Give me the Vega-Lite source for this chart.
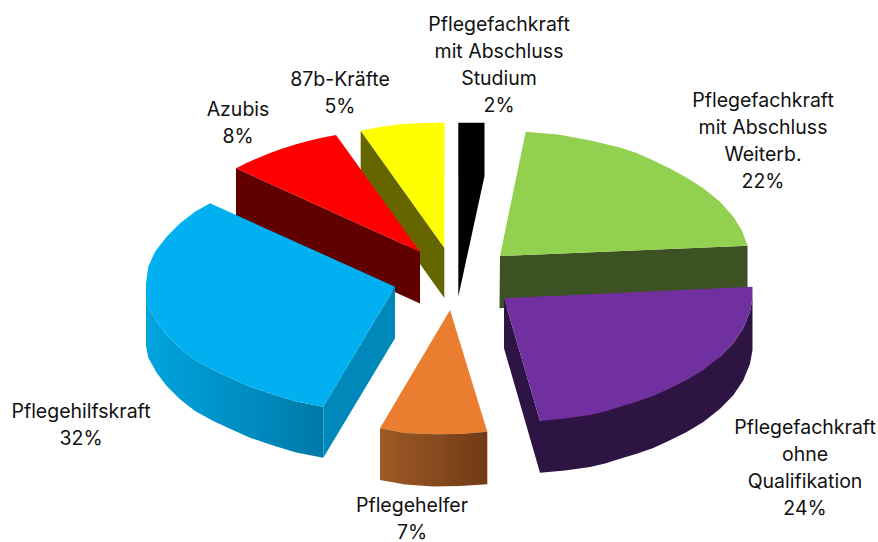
{"$schema":"https://vega.github.io/schema/vega-lite/v6.json","width":878,"height":542,"autosize":{"type":"none"},"padding":0,"background":"white","config":{"view":{"stroke":null}},
"resolve":{"scale":{"fill":"independent"}},
"datasets":{"outline":[
{"part":"yellow_side","seq":1,"x":360.7,"y":130.7},{"part":"yellow_side","seq":2,"x":444.3,"y":247.7},{"part":"yellow_side","seq":3,"x":444.3,"y":298},{"part":"yellow_side","seq":4,"x":360.7,"y":181},
{"part":"yellow_top","seq":1,"x":360.7,"y":130.7},{"part":"yellow_top","seq":2,"x":380,"y":127},{"part":"yellow_top","seq":3,"x":400,"y":124.3},{"part":"yellow_top","seq":4,"x":422,"y":123},{"part":"yellow_top","seq":5,"x":444.6,"y":122.7},{"part":"yellow_top","seq":6,"x":444.3,"y":247.7},
{"part":"black","seq":1,"x":458.3,"y":122.7},{"part":"black","seq":2,"x":484.5,"y":122.7},{"part":"black","seq":3,"x":484.5,"y":176},{"part":"black","seq":4,"x":458.3,"y":296.7},
{"part":"red_side","seq":1,"x":236,"y":168.3},{"part":"red_side","seq":2,"x":420,"y":251.7},{"part":"red_side","seq":3,"x":420,"y":303.5},{"part":"red_side","seq":4,"x":236,"y":220},
{"part":"red_top","seq":1,"x":236,"y":168.3},{"part":"red_top","seq":2,"x":247,"y":162.8},{"part":"red_top","seq":3,"x":258,"y":158},{"part":"red_top","seq":4,"x":270,"y":153},{"part":"red_top","seq":5,"x":283.3,"y":148.3},{"part":"red_top","seq":6,"x":297,"y":144},{"part":"red_top","seq":7,"x":310,"y":140.5},{"part":"red_top","seq":8,"x":323,"y":137.5},{"part":"red_top","seq":9,"x":336,"y":135},{"part":"red_top","seq":10,"x":420,"y":251.7},
{"part":"blue_facet","seq":1,"x":395,"y":286.7},{"part":"blue_facet","seq":2,"x":395,"y":338.3},{"part":"blue_facet","seq":3,"x":323.3,"y":457.7},{"part":"blue_facet","seq":4,"x":323.3,"y":406.7},
{"part":"blue_top","seq":1,"x":210,"y":203.3},{"part":"blue_top","seq":2,"x":195,"y":211.7},{"part":"blue_top","seq":3,"x":180,"y":223.3},{"part":"blue_top","seq":4,"x":166.7,"y":236.7},{"part":"blue_top","seq":5,"x":155,"y":251.7},{"part":"blue_top","seq":6,"x":148.3,"y":266.7},{"part":"blue_top","seq":7,"x":146,"y":283.3},{"part":"blue_top","seq":8,"x":146,"y":298},{"part":"blue_top","seq":9,"x":148.3,"y":306.7},{"part":"blue_top","seq":10,"x":156.7,"y":321.7},{"part":"blue_top","seq":11,"x":166.7,"y":335},{"part":"blue_top","seq":12,"x":180,"y":348.3},{"part":"blue_top","seq":13,"x":195,"y":360},{"part":"blue_top","seq":14,"x":213.3,"y":370},{"part":"blue_top","seq":15,"x":230,"y":377.7},{"part":"blue_top","seq":16,"x":250,"y":386.7},{"part":"blue_top","seq":17,"x":270,"y":393.5},{"part":"blue_top","seq":18,"x":296,"y":401.5},{"part":"blue_top","seq":19,"x":323.3,"y":406.7},{"part":"blue_top","seq":20,"x":395,"y":286.7},
{"part":"green_side","seq":1,"x":500,"y":256},{"part":"green_side","seq":2,"x":747.5,"y":245.7},{"part":"green_side","seq":3,"x":747.5,"y":292},{"part":"green_side","seq":4,"x":499.5,"y":308.3},
{"part":"green_top","seq":1,"x":525.7,"y":131.7},{"part":"green_top","seq":2,"x":558.3,"y":134.5},{"part":"green_top","seq":3,"x":591.7,"y":140.7},{"part":"green_top","seq":4,"x":620,"y":147.5},{"part":"green_top","seq":5,"x":636.7,"y":153},{"part":"green_top","seq":6,"x":653.3,"y":160.5},{"part":"green_top","seq":7,"x":670,"y":168.5},{"part":"green_top","seq":8,"x":686.7,"y":177.7},{"part":"green_top","seq":9,"x":703.3,"y":188.3},{"part":"green_top","seq":10,"x":720,"y":201.7},{"part":"green_top","seq":11,"x":733.3,"y":216.7},{"part":"green_top","seq":12,"x":741.7,"y":230},{"part":"green_top","seq":13,"x":747.5,"y":245.7},{"part":"green_top","seq":14,"x":500,"y":256},
{"part":"purple_side","seq":1,"x":504,"y":298.3},{"part":"purple_side","seq":2,"x":540,"y":421},{"part":"purple_side","seq":3,"x":720,"y":356.7},{"part":"purple_side","seq":4,"x":733.3,"y":343.3},{"part":"purple_side","seq":5,"x":743.3,"y":328.3},{"part":"purple_side","seq":6,"x":750,"y":311.7},{"part":"purple_side","seq":7,"x":752.5,"y":298},{"part":"purple_side","seq":8,"x":752.5,"y":350},{"part":"purple_side","seq":9,"x":750,"y":363.7},{"part":"purple_side","seq":10,"x":743.3,"y":380.3},{"part":"purple_side","seq":11,"x":733.3,"y":395.3},{"part":"purple_side","seq":12,"x":720,"y":408.7},{"part":"purple_side","seq":13,"x":703.3,"y":422},{"part":"purple_side","seq":14,"x":686.7,"y":432},{"part":"purple_side","seq":15,"x":670,"y":440.3},{"part":"purple_side","seq":16,"x":653.3,"y":448},{"part":"purple_side","seq":17,"x":636.7,"y":453.7},{"part":"purple_side","seq":18,"x":620,"y":458.7},{"part":"purple_side","seq":19,"x":605,"y":463.5},{"part":"purple_side","seq":20,"x":590,"y":467},{"part":"purple_side","seq":21,"x":565,"y":470.5},{"part":"purple_side","seq":22,"x":540,"y":472.7},{"part":"purple_side","seq":23,"x":504,"y":348.3},
{"part":"purple_top","seq":1,"x":504,"y":298.3},{"part":"purple_top","seq":2,"x":752.5,"y":286.7},{"part":"purple_top","seq":3,"x":752.5,"y":298},{"part":"purple_top","seq":4,"x":750,"y":311.7},{"part":"purple_top","seq":5,"x":743.3,"y":328.3},{"part":"purple_top","seq":6,"x":733.3,"y":343.3},{"part":"purple_top","seq":7,"x":720,"y":356.7},{"part":"purple_top","seq":8,"x":703.3,"y":370},{"part":"purple_top","seq":9,"x":686.7,"y":380},{"part":"purple_top","seq":10,"x":670,"y":388.3},{"part":"purple_top","seq":11,"x":653.3,"y":396},{"part":"purple_top","seq":12,"x":636.7,"y":401.7},{"part":"purple_top","seq":13,"x":620,"y":406.7},{"part":"purple_top","seq":14,"x":605,"y":411.5},{"part":"purple_top","seq":15,"x":590,"y":415},{"part":"purple_top","seq":16,"x":565,"y":418.5},{"part":"purple_top","seq":17,"x":540,"y":421},
{"part":"orange_top","seq":1,"x":450,"y":310},{"part":"orange_top","seq":2,"x":487.3,"y":431.7},{"part":"orange_top","seq":3,"x":460,"y":434},{"part":"orange_top","seq":4,"x":433.3,"y":434.3},{"part":"orange_top","seq":5,"x":405,"y":433},{"part":"orange_top","seq":6,"x":380,"y":428.3}
],
"blueSide":[
{"seq":1,"x":146,"y":295},{"seq":2,"x":148.3,"y":306.7},{"seq":3,"x":156.7,"y":321.7},{"seq":4,"x":166.7,"y":335},{"seq":5,"x":180,"y":348.3},{"seq":6,"x":195,"y":360},{"seq":7,"x":213.3,"y":370},{"seq":8,"x":230,"y":377.7},{"seq":9,"x":250,"y":386.7},{"seq":10,"x":270,"y":393.5},{"seq":11,"x":296,"y":401.5},{"seq":12,"x":323.3,"y":406.7},{"seq":13,"x":323.3,"y":457.7},{"seq":14,"x":296,"y":452.5},{"seq":15,"x":270,"y":444.5},{"seq":16,"x":250,"y":437.7},{"seq":17,"x":230,"y":428.7},{"seq":18,"x":213.3,"y":421},{"seq":19,"x":195,"y":411},{"seq":20,"x":180,"y":399.3},{"seq":21,"x":166.7,"y":386},{"seq":22,"x":156.7,"y":372.7},{"seq":23,"x":148.3,"y":357.7},{"seq":24,"x":146,"y":346}],
"orangeSide":[
{"seq":1,"x":380,"y":428.3},{"seq":2,"x":405,"y":433},{"seq":3,"x":433.3,"y":434.3},{"seq":4,"x":460,"y":434},{"seq":5,"x":487.3,"y":431.7},{"seq":6,"x":487.3,"y":484.3},{"seq":7,"x":460,"y":486},{"seq":8,"x":433.3,"y":486.5},{"seq":9,"x":405,"y":484.5},{"seq":10,"x":380,"y":480}],
"labels":[
{"category":"Pflegefachkraft mit Abschluss Studium","share":2,"label":["Pflegefachkraft","mit Abschluss","Studium","2%"],"x":499,"y":25},
{"category":"87b-Kräfte","share":5,"label":["87b-Kräfte","5%"],"x":340,"y":80},
{"category":"Azubis","share":8,"label":["Azubis","8%"],"x":238,"y":110},
{"category":"Pflegefachkraft mit Abschluss Weiterb.","share":22,"label":["Pflegefachkraft","mit Abschluss","Weiterb.","22%"],"x":763,"y":101},
{"category":"Pflegefachkraft ohne Qualifikation","share":24,"label":["Pflegefachkraft","ohne","Qualifikation","24%"],"x":805,"y":428},
{"category":"Pflegehelfer","share":7,"label":["Pflegehelfer","7%"],"x":412,"y":506},
{"category":"Pflegehilfskraft","share":32,"label":["Pflegehilfskraft","32%"],"x":81,"y":412}]},
"encoding":{"x":{"field":"x","type":"quantitative","scale":{"domain":[0,878],"nice":false,"zero":false},"axis":null},"y":{"field":"y","type":"quantitative","scale":{"domain":[542,0],"nice":false,"zero":false},"axis":null}},
"layer":[
{"data":{"name":"outline"},"transform":[{"filter":"indexof(['yellow_side','yellow_top','black','red_side','red_top'],datum.part)>=0"}],"mark":{"type":"line","strokeWidth":0},"encoding":{"detail":{"field":"part"},"order":{"field":"seq","type":"quantitative"},"fill":{"field":"part","type":"nominal","legend":null,"scale":{"domain":["yellow_side","yellow_top","black","red_side","red_top"],"range":["#666600","#FFFF00","#000000","#600000","#FF0000"]}}}},
{"data":{"name":"blueSide"},"mark":{"type":"line","strokeWidth":0,"fill":{"gradient":"linear","x1":0,"y1":0,"x2":1,"y2":0,"stops":[{"offset":0,"color":"#00A4DE"},{"offset":0.6,"color":"#008BC0"},{"offset":1,"color":"#0079A6"}]}},"encoding":{"order":{"field":"seq","type":"quantitative"}}},
{"data":{"name":"outline"},"transform":[{"filter":"indexof(['blue_facet','blue_top','green_side','green_top','purple_side','purple_top','orange_top'],datum.part)>=0"}],"mark":{"type":"line","strokeWidth":0},"encoding":{"detail":{"field":"part"},"order":{"field":"seq","type":"quantitative"},"fill":{"field":"part","type":"nominal","legend":null,"scale":{"domain":["blue_facet","blue_top","green_side","green_top","purple_side","purple_top","orange_top"],"range":["#0088BB","#00B0F0","#3C5222","#92D050","#2D1442","#7030A0","#EB7D30"]}}}},
{"data":{"name":"orangeSide"},"mark":{"type":"line","strokeWidth":0,"fill":{"gradient":"linear","x1":0,"y1":0,"x2":1,"y2":0,"stops":[{"offset":0,"color":"#9C5A24"},{"offset":1,"color":"#713B16"}]}},"encoding":{"order":{"field":"seq","type":"quantitative"}}},
{"data":{"name":"labels"},"mark":{"type":"text","font":"Inter","fontSize":19.5,"lineHeight":27,"align":"center","baseline":"middle","color":"#111111"},"encoding":{"text":{"field":"label"}}}
]}
